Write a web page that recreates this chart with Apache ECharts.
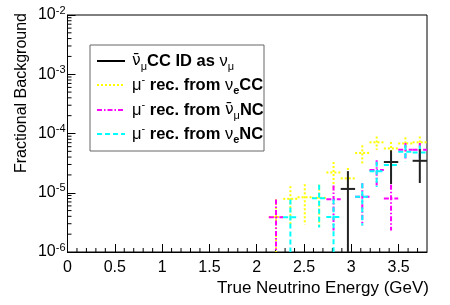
<!DOCTYPE html>
<html><head><meta charset="utf-8">
<script src="https://cdn.jsdelivr.net/npm/echarts@6/dist/echarts.min.js"></script>
<style>html,body{margin:0;padding:0;background:#fff}#c{width:450px;height:305px}</style>
</head><body><div id="c"></div>
<script>
// ---- data (bin centres in GeV, fractional background, error) ----
const X_MIN = 0, X_MAX = 3.8, BIN_W = 0.152;
const Y_MIN = 1e-6, Y_MAX = 1e-2;
const xTickLabels = ['0','0.5','1','1.5','2','2.5','3','3.5'];

const blackX   = [2.964, 3.420, 3.724];
const blackY   = [1.16e-5, 3.3e-5, 3.46e-5];
const blackErr = [1.16e-5, 1.9e-5, 2.0e-5];

const yellowX   = [2.204, 2.356, 2.508, 2.660, 2.812, 2.964, 3.116, 3.268, 3.420, 3.572, 3.724];
const yellowY   = [3.9e-6, 7.9e-6, 8.4e-6, 8.2e-6, 2.2e-5, 1.75e-5, 4.7e-5, 7.1e-5, 5.6e-5, 6.8e-5, 7.1e-5];
const yellowErr = [3.9e-6, 5.0e-6, 5.5e-6, 5.5e-6, 1.1e-5, 8.7e-6, 1.6e-5, 1.8e-5, 1.6e-5, 1.8e-5, 1.8e-5];

const magentaX   = [2.204, 2.812, 3.116, 3.268, 3.420, 3.572, 3.724];
const magentaY   = [3.85e-6, 7.8e-6, 8.6e-6, 2.42e-5, 8.0e-6, 5.3e-5, 5.3e-5];
const magentaErr = [3.85e-6, 5.5e-6, 5.8e-6, 1.1e-5, 5.7e-6, 1.6e-5, 1.6e-5];

const cyanX   = [2.356, 2.660, 2.812, 3.116, 3.268, 3.420, 3.572, 3.724];
const cyanY   = [3.85e-6, 8.1e-6, 3.9e-6, 8.6e-6, 2.3e-5, 2.95e-5, 4.9e-5, 4.8e-5];
const cyanErr = [3.85e-6, 5.5e-6, 3.9e-6, 5.8e-6, 1.05e-5, 1.2e-5, 1.5e-5, 1.5e-5];

// ---- styles ----
const FONT = 'Liberation Sans, Arial, Helvetica, sans-serif';
const GFONT = 'DejaVu Sans, Liberation Sans, sans-serif';
const C_BLACK = '#000000', C_YEL = '#ffff00', C_MAG = '#ff00ff', C_CYA = '#00ffff';
const D_YEL = [2, 2], D_MAG = [5, 2, 1.5, 2], D_CYA = [5, 3];

function crossSeries(name, xs, ys, es, color, dash, width, z) {
  return {
    type: 'custom', name, z, silent: true,
    data: xs.map((x, i) => [x, ys[i], es[i]]),
    encode: { x: 0, y: 1 },
    renderItem(params, api) {
      const x = api.value(0), v = api.value(1), e = api.value(2);
      const cs = params.coordSys;
      const top = cs.y, bottom = cs.y + cs.height;
      const c = api.coord([x, v]);
      const l = api.coord([x - BIN_W / 2, v]);
      const r = api.coord([x + BIN_W / 2, v]);
      const hi = api.coord([x, v + e])[1];
      const lo = (v - e > 0) ? Math.min(api.coord([x, v - e])[1], bottom) : bottom;
      const st = { stroke: color, lineWidth: width, lineDash: dash };
      return { type: 'group', children: [
        { type: 'line', shape: { x1: l[0], y1: c[1], x2: r[0], y2: c[1] }, style: st },
        { type: 'line', shape: { x1: c[0], y1: Math.max(hi, top), x2: c[0], y2: lo }, style: st }
      ]};
    }
  };
}

// minor tick positions (axis decoration)
const yMinor = [];
for (let ex = -6; ex <= -3; ex++) for (let m = 2; m <= 9; m++) yMinor.push(m * Math.pow(10, ex));
const xMinor = [];
for (let k = 1; k < 38; k++) if (k % 5 !== 0) xMinor.push(k / 10);

const chart = echarts.init(document.getElementById('c'), null, { renderer: 'canvas' });
const supRich = {
  b: { fontFamily: FONT, fontSize: 16, color: '#000', lineHeight: 20 },
  s: { fontFamily: FONT, fontSize: 11, color: '#000', verticalAlign: 'top', lineHeight: 10 }
};
const legRich = {
  b: { fontFamily: FONT, fontSize: 16.5, fontWeight: 'bold', color: '#000', lineHeight: 22 },
  g: { fontFamily: FONT, fontSize: 16.5, color: '#000', lineHeight: 22 },
  gb: { fontFamily: GFONT, fontSize: 15.5, color: '#000', lineHeight: 22 },
  sub: { fontFamily: FONT, fontSize: 11, color: '#000', verticalAlign: 'bottom', lineHeight: 12 },
  subb: { fontFamily: FONT, fontSize: 11, fontWeight: 'bold', color: '#000', verticalAlign: 'bottom', lineHeight: 12 },
  sup: { fontFamily: FONT, fontSize: 11, color: '#000', verticalAlign: 'top', lineHeight: 11 }
};
const legRows = [
  { text: '{gb|ν̄}{sub|μ}{b|CC ID as }{g|ν}{sub|μ}', color: C_BLACK, dash: null, w: 2 },
  { text: '{g|μ}{sup|-}{b| rec. from }{g|ν}{subb|e}{b|CC}', color: C_YEL, dash: D_YEL, w: 2 },
  { text: '{g|μ}{sup|-}{b| rec. from }{gb|ν̄}{sub|μ}{b|NC}', color: C_MAG, dash: D_MAG, w: 2 },
  { text: '{g|μ}{sup|-}{b| rec. from }{g|ν}{subb|e}{b|NC}', color: C_CYA, dash: D_CYA, w: 2 }
];
const legRowY = [61, 85, 110, 134];
const graphics = [
  { type: 'rect', shape: { x: 90, y: 45, width: 174, height: 106 }, style: { fill: '#fff', stroke: '#666', lineWidth: 1 }, z: 50 },
  { type: 'text', x: 22, y: 13, rotation: Math.PI / 2, style: { text: 'Fractional Background', font: '16px ' + FONT, fill: '#000', align: 'right', verticalAlign: 'middle' }, z: 50 },
  { type: 'text', x: 429, y: 288, style: { text: 'True Neutrino Energy (GeV)', font: '17px ' + FONT, fill: '#000', align: 'right', verticalAlign: 'middle' }, z: 50 }
];
legRows.forEach((r, i) => {
  graphics.push({ type: 'line', shape: { x1: 97, y1: legRowY[i], x2: 125, y2: legRowY[i] }, style: { stroke: r.color, lineWidth: r.w, lineDash: r.dash }, z: 51 });
  graphics.push({ type: 'text', x: 132, y: legRowY[i], style: { text: r.text, rich: legRich, align: 'left', verticalAlign: 'middle' }, z: 51 });
});

chart.setOption({
  animation: false,
  backgroundColor: '#fff',
  grid: { left: 67.5, right: 23, top: 15, bottom: 53, show: true, borderColor: '#000', borderWidth: 1, backgroundColor: 'transparent' },
  xAxis: {
    type: 'value', min: X_MIN, max: X_MAX, interval: 0.5,
    axisLine: { lineStyle: { color: '#000', width: 1 } },
    axisTick: { inside: true, length: 8, lineStyle: { color: '#000' } },
    axisLabel: { showMaxLabel: false, margin: 8, fontFamily: FONT, fontSize: 16, color: '#000',
      formatter: v => { const i = Math.round(v / 0.5); return (Math.abs(v - i * 0.5) < 1e-9 && i < xTickLabels.length) ? xTickLabels[i] : ''; } },
    splitLine: { show: false }
  },
  yAxis: {
    type: 'log', logBase: 10, min: Y_MIN, max: Y_MAX,
    axisLine: { lineStyle: { color: '#000', width: 1 } },
    axisTick: { inside: true, length: 8, lineStyle: { color: '#000' } },
    axisLabel: { margin: 2, rich: supRich,
      formatter: v => '{b|10}{s|' + Math.round(Math.log10(v)) + '}' },
    splitLine: { show: false }
  },
  graphic: graphics,
  series: [
    {
      type: 'custom', silent: true, z: 1,
      data: yMinor.map(v => [X_MIN, v]), encode: { x: 0, y: 1 },
      renderItem(params, api) {
        const p = api.coord([api.value(0), api.value(1)]);
        return { type: 'line', shape: { x1: p[0], y1: p[1], x2: p[0] + 4, y2: p[1] }, style: { stroke: '#000', lineWidth: 1 } };
      }
    },
    {
      type: 'custom', silent: true, z: 1,
      data: xMinor.map(v => [v, Y_MIN]), encode: { x: 0, y: 1 },
      renderItem(params, api) {
        const p = api.coord([api.value(0), api.value(1)]);
        return { type: 'line', shape: { x1: p[0], y1: p[1], x2: p[0], y2: p[1] - 4 }, style: { stroke: '#000', lineWidth: 1 } };
      }
    },
    crossSeries('yellow', yellowX, yellowY, yellowErr, C_YEL, D_YEL, 2, 3),
    crossSeries('magenta', magentaX, magentaY, magentaErr, C_MAG, D_MAG, 2, 4),
    crossSeries('cyan', cyanX, cyanY, cyanErr, C_CYA, D_CYA, 2, 5),
    crossSeries('black', blackX, blackY, blackErr, '#222', null, 2, 6)
  ]
});
</script></body></html>
